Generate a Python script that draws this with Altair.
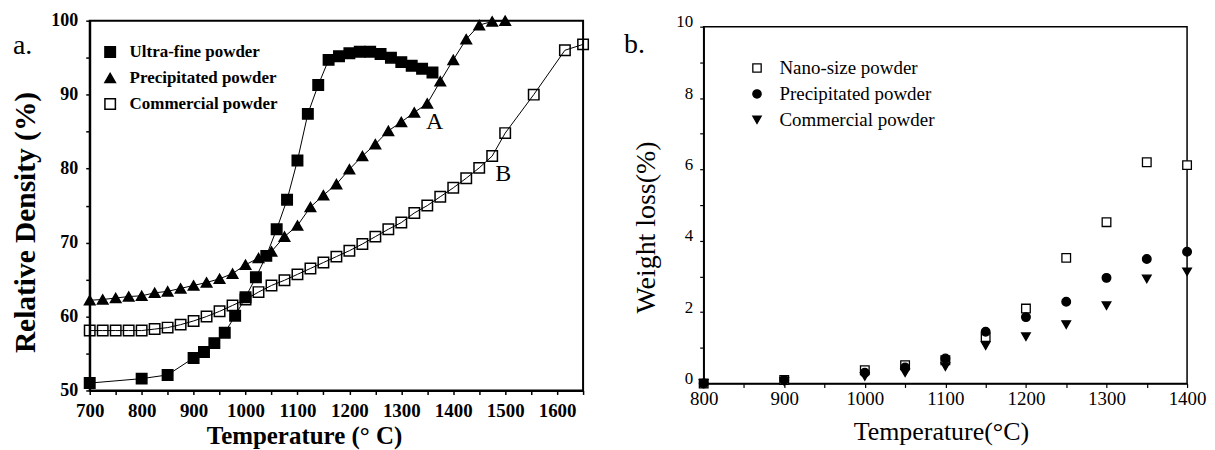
import altair as alt
import pandas as pd

SERIF = "Liberation Serif"

# ---------------- Panel a: relative density ----------------
SER_A = ["Ultra-fine powder", "Precipitated powder", "Commercial powder"]

ultra_t = [700, 800, 850, 900, 920, 940, 960, 980, 1000, 1020, 1040, 1060, 1080, 1100,
           1120, 1140, 1160, 1180, 1200, 1220, 1240, 1260, 1280, 1300, 1320, 1340, 1360]
ultra_v = [51.0, 51.6, 52.1, 54.4, 55.2, 56.4, 57.8, 60.1, 62.6, 65.3, 68.2, 71.8, 75.8, 81.1,
           87.4, 91.3, 94.7, 95.2, 95.6, 95.8, 95.8, 95.5, 95.0, 94.4, 93.9, 93.5, 93.0]

prec_t = [700, 725, 750, 775, 800, 825, 850, 875, 900, 925, 950, 975, 1000, 1025, 1050, 1075,
          1100, 1125, 1150, 1175, 1200, 1225, 1250, 1275, 1300, 1325, 1350, 1375, 1400, 1425,
          1450, 1475, 1500]
prec_v = [62.2, 62.3, 62.5, 62.7, 62.8, 63.2, 63.4, 63.8, 64.2, 64.6, 65.1, 65.8, 67.0, 67.9,
          68.8, 70.8, 72.3, 74.8, 76.4, 77.9, 79.9, 81.7, 83.3, 85.1, 86.3, 87.6, 88.8, 91.8,
          94.7, 97.5, 99.4, 99.9, 100.0]

comm_t = [700, 725, 750, 775, 800, 825, 850, 875, 900, 925, 950, 975, 1000, 1025, 1050, 1075,
          1100, 1125, 1150, 1175, 1200, 1225, 1250, 1275, 1300, 1325, 1350, 1375, 1400, 1425,
          1450, 1475, 1500, 1555, 1615, 1650]
comm_v = [58.1, 58.1, 58.1, 58.1, 58.1, 58.3, 58.5, 58.9, 59.4, 60.0, 60.7, 61.5, 62.3, 63.3,
          64.2, 64.9, 65.7, 66.5, 67.3, 68.1, 68.9, 69.8, 70.8, 71.8, 72.7, 74.0, 75.0, 76.2,
          77.4, 78.7, 80.1, 81.7, 84.8, 90.0, 96.0, 96.8]

ann_a_lab = ["A", "B"]
ann_a_t = [1364, 1496]
ann_a_v = [86.3, 79.3]

xa_ticks = [700, 750, 800, 850, 900, 950, 1000, 1050, 1100, 1150, 1200, 1250, 1300, 1350,
            1400, 1450, 1500, 1550, 1600, 1650]
ya_ticks = [50, 55, 60, 65, 70, 75, 80, 85, 90, 95, 100]

# ---------------- Panel b: weight loss ----------------
SER_B = ["Nano-size powder", "Precipitated powder", "Commercial powder"]
temps_b = [800, 900, 1000, 1050, 1100, 1150, 1200, 1250, 1300, 1350, 1400]
nano_v = [0.0, 0.1, 0.37, 0.51, 0.65, 1.3, 2.1, 3.52, 4.52, 6.2, 6.12]
precb_v = [0.0, 0.1, 0.3, 0.45, 0.7, 1.45, 1.86, 2.29, 2.96, 3.49, 3.69]
commb_v = [0.0, 0.05, 0.2, 0.3, 0.47, 1.06, 1.31, 1.65, 2.18, 2.93, 3.13]

xb_ticks = [800, 850, 900, 950, 1000, 1050, 1100, 1150, 1200, 1250, 1300, 1350, 1400]
yb_ticks = [0, 1, 2, 3, 4, 5, 6, 7, 8, 9, 10]

# ---------------- build tables ----------------
dfa = pd.concat([
    pd.DataFrame({"series": SER_A[0], "t": ultra_t, "v": ultra_v}),
    pd.DataFrame({"series": SER_A[1], "t": prec_t, "v": prec_v}),
    pd.DataFrame({"series": SER_A[2], "t": comm_t, "v": comm_v}),
], ignore_index=True)

dfb = pd.concat([
    pd.DataFrame({"series": SER_B[0], "t": temps_b, "v": nano_v}),
    pd.DataFrame({"series": SER_B[1], "t": temps_b, "v": precb_v}),
    pd.DataFrame({"series": SER_B[2], "t": temps_b, "v": commb_v}),
], ignore_index=True)

# ---------------- panel a chart ----------------
xa = alt.X("t:Q",
           scale=alt.Scale(domain=[700, 1650], nice=False, zero=False),
           axis=alt.Axis(values=xa_ticks, format="d",
                         labelExpr="datum.value % 100 == 0 && datum.value <= 1600 ? datum.label : ''",
                         title="Temperature (° C)", titleFont=SERIF, titleFontSize=25,
                         titleFontWeight="bold", titleColor="black",
                         titleX=215, titleY=45, titleBaseline="middle",
                         labelFont=SERIF, labelFontSize=19, labelFontWeight="bold",
                         labelColor="black", labelPadding=7, labelFlush=False,
                         labelOverlap=False, tickColor="black", tickSize=4, tickWidth=1.5,
                         domainColor="black", domainWidth=2, grid=False))
ya = alt.Y("v:Q",
           scale=alt.Scale(domain=[50, 100], nice=False, zero=False),
           axis=alt.Axis(values=ya_ticks, format="d",
                         labelExpr="datum.value % 10 == 0 ? datum.label : ''",
                         title="Relative Density (%)", titleFont=SERIF, titleFontSize=29.5,
                         titleFontWeight="bold", titleColor="black",
                         titleX=-64, titleY=202, titleBaseline="middle",
                         labelFont=SERIF, labelFontSize=18, labelFontWeight="bold",
                         labelColor="black", labelPadding=8, labelFlush=False,
                         labelOverlap=False, tickColor="black", tickSize=4, tickWidth=1.5,
                         domainColor="black", domainWidth=2, grid=False))

leg_a = alt.Legend(title=None, orient="none", legendX=12, legendY=23, padding=0,
                   labelFont=SERIF, labelFontSize=17, labelFontWeight="bold",
                   labelColor="black", labelOffset=11, rowPadding=8,
                   symbolSize=110, symbolStrokeWidth=1.5)

base_a = alt.Chart(dfa)
lines_a = base_a.mark_line(color="black", strokeWidth=1).encode(
    x=xa, y=ya, detail="series:N", order="t:Q")
pts_a = base_a.mark_point(filled=True, opacity=1, size=110, strokeWidth=1.5).encode(
    x=xa, y=ya,
    shape=alt.Shape("series:N", scale=alt.Scale(domain=SER_A,
                    range=["square", "triangle-up", "square"]), legend=leg_a),
    fill=alt.Fill("series:N", scale=alt.Scale(domain=SER_A,
                  range=["black", "black", "transparent"]), legend=leg_a),
    stroke=alt.Stroke("series:N", scale=alt.Scale(domain=SER_A,
                      range=["black", "black", "black"]), legend=leg_a),
)
ann_a = alt.Chart(pd.DataFrame({"t": ann_a_t, "v": ann_a_v, "lab": ann_a_lab})).mark_text(
    font=SERIF, fontSize=24, color="black", align="center", baseline="middle").encode(
    x=xa, y=ya, text="lab:N")
tag_a = alt.Chart(pd.DataFrame({"k": [0]})).mark_text(
    font=SERIF, fontSize=28, color="black", align="left", baseline="middle").encode(
    x=alt.value(-77), y=alt.value(25), text=alt.value("a."))

left = alt.layer(lines_a, pts_a, ann_a, tag_a).properties(
    width=495, height=371,
    view=alt.ViewBackground(stroke="black", strokeWidth=2))

# ---------------- panel b chart ----------------
xb = alt.X("t:Q",
           scale=alt.Scale(domain=[800, 1400], nice=False, zero=False),
           axis=alt.Axis(values=xb_ticks, format="d",
                         labelExpr="datum.value % 100 == 0 ? datum.label : ''",
                         title="Temperature(°C)", titleFont=SERIF, titleFontSize=26,
                         titleFontWeight="normal", titleColor="black",
                         titleX=238, titleY=48, titleBaseline="middle",
                         labelFont=SERIF, labelFontSize=19, labelColor="black",
                         labelPadding=2, labelFlush=False, labelOverlap=False,
                         tickColor="black", tickSize=4, tickWidth=1.2,
                         domainColor="black", domainWidth=1.5, grid=False))
yb = alt.Y("v:Q",
           scale=alt.Scale(domain=[0, 10], nice=False, zero=False),
           axis=alt.Axis(values=yb_ticks, format="d",
                         labelExpr="datum.value % 2 == 0 ? datum.label : ''",
                         title="Weight loss(%)", titleFont=SERIF, titleFontSize=28,
                         titleFontWeight="normal", titleColor="black",
                         titleX=-57, titleY=201, titleBaseline="middle",
                         labelFont=SERIF, labelFontSize=17, labelColor="black",
                         labelPadding=7, labelOffset=-5, labelFlush=False,
                         labelOverlap=False,
                         tickColor="black", tickSize=4, tickWidth=1.2,
                         domainColor="black", domainWidth=1.5, grid=False))

leg_b = alt.Legend(title=None, orient="none", legendX=44, legendY=38, padding=0,
                   labelFont=SERIF, labelFontSize=19, labelColor="black",
                   labelOffset=13, rowPadding=6,
                   symbolSize=70, symbolStrokeWidth=1.3)

pts_b = alt.Chart(dfb).mark_point(filled=True, opacity=1, size=75, strokeWidth=1.3).encode(
    x=xb, y=yb,
    shape=alt.Shape("series:N", scale=alt.Scale(domain=SER_B,
                    range=["square", "circle", "triangle-down"]), legend=leg_b),
    fill=alt.Fill("series:N", scale=alt.Scale(domain=SER_B,
                  range=["white", "black", "black"]), legend=leg_b),
    stroke=alt.Stroke("series:N", scale=alt.Scale(domain=SER_B,
                      range=["black", "black", "black"]), legend=leg_b),
)
tag_b = alt.Chart(pd.DataFrame({"k": [0]})).mark_text(
    font=SERIF, fontSize=28, color="black", align="left", baseline="middle").encode(
    x=alt.value(-80), y=alt.value(18), text=alt.value("b."))

right = alt.layer(pts_b, tag_b).properties(
    width=485, height=358,
    view=alt.ViewBackground(stroke="black", strokeWidth=1.5))

spacer = alt.Chart(pd.DataFrame({"k": [0]})).mark_point(opacity=0, size=1).encode(
    x=alt.value(0), y=alt.value(0)).properties(width=1, height=6)

right_col = alt.vconcat(spacer, right, spacing=0, bounds="flush")

chart = alt.hconcat(left, right_col, spacing=121, bounds="flush").resolve_scale(
    shape="independent", fill="independent", stroke="independent",
    x="independent", y="independent"
).resolve_legend(shape="independent", fill="independent", stroke="independent"
).configure_view(stroke="transparent").properties(
    padding={"left": 2, "top": 2, "right": 0, "bottom": 0})

chart.save("out.html", embed_options={"renderer": "svg", "actions": False})
